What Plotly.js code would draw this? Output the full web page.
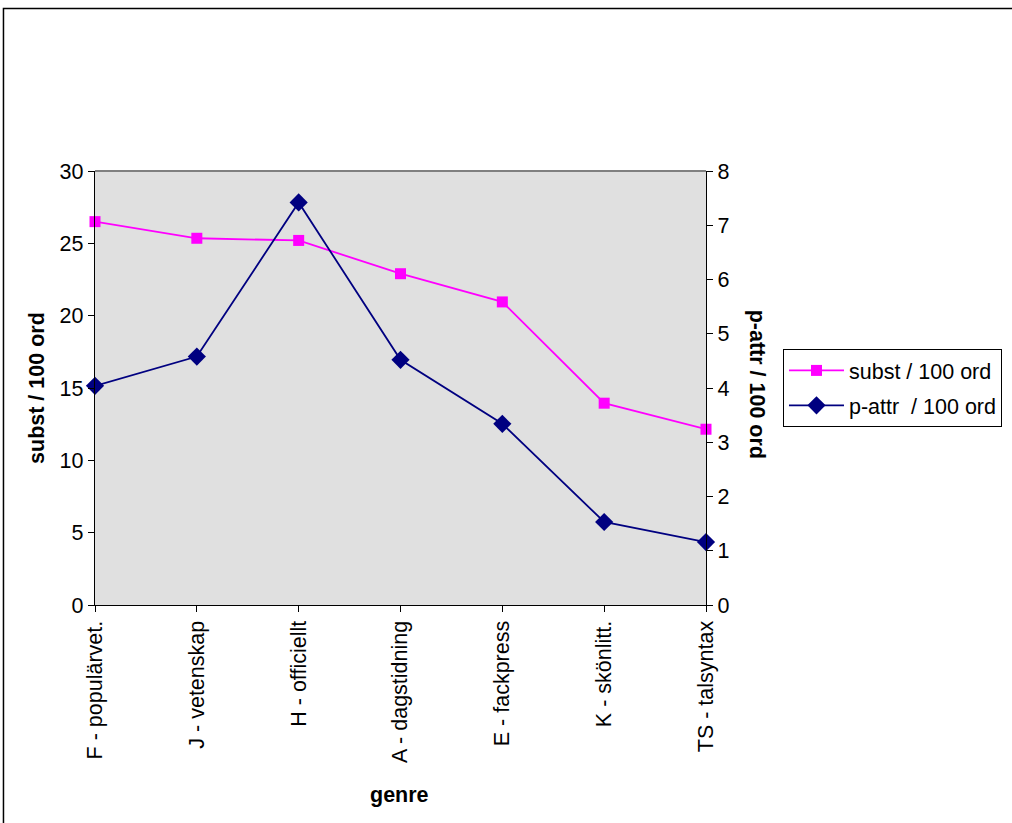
<!DOCTYPE html>
<html>
<head>
<meta charset="utf-8">
<script src="https://cdn.plot.ly/plotly-3.0.1.min.js"></script>
<style>html,body{margin:0;padding:0;background:#fff;}#chart{width:1012px;height:823px;}</style>
</head>
<body>
<div id="chart"></div>
<script>
var categories = ["F - populärvet.", "J - vetenskap", "H - officiellt", "A - dagstidning", "E - fackpress", "K - skönlitt.", "TS - talsyntax"];
var substValues = [26.5, 25.35, 25.2, 22.9, 20.95, 13.95, 12.15];
var pattrValues = [4.04, 4.58, 7.42, 4.52, 3.34, 1.53, 1.16];
var seriesNames = ["subst / 100 ord", "p-attr\u00a0\u00a0/ 100 ord"];
var leftTicks = [0, 5, 10, 15, 20, 25, 30];
var rightTicks = [0, 1, 2, 3, 4, 5, 6, 7, 8];

var FONT = "Liberation Sans, Arial, sans-serif";
var FS = 21.5;

var traces = [
  {
    x: categories, y: substValues, name: seriesNames[0], type: "scatter", mode: "lines+markers",
    xaxis: "x", yaxis: "y", legendgroup: "a", cliponaxis: false,
    line: {color: "#FF00FF", width: 1.8},
    marker: {symbol: "square", size: 11, color: "#FF00FF"}
  },
  {
    x: categories, y: pattrValues, name: seriesNames[1], type: "scatter", mode: "lines+markers",
    xaxis: "x", yaxis: "y2", legendgroup: "b", cliponaxis: false,
    line: {color: "#000080", width: 1.8},
    marker: {symbol: "diamond", size: 14, color: "#000080"}
  }
];

var tickFont = {family: FONT, size: FS, color: "#000"};

var layout = {
  width: 1012, height: 823,
  margin: {l: 95, r: 306, t: 171, b: 218, autoexpand: false},
  paper_bgcolor: "#ffffff",
  plot_bgcolor: "#E0E0E0",
  font: {family: FONT, size: FS, color: "#000"},
  showlegend: true,
  legend: {
    x: 1.126, y: 0.59, xanchor: "left", yanchor: "top",
    bordercolor: "#000", borderwidth: 1, bgcolor: "#fff",
    font: {family: FONT, size: FS, color: "#000"},
    tracegroupgap: 4, traceorder: "grouped", itemwidth: 55
  },
  xaxis: {
    type: "category", range: [0, categories.length - 1],
    tickangle: -90, tickfont: tickFont,
    showgrid: false, zeroline: false,
    showline: true, linecolor: "#000", linewidth: 1.2,
    ticks: "outside", ticklen: 6, tickcolor: "#000", tickwidth: 1,
    mirror: false, fixedrange: true
  },
  xaxis2: {
    overlaying: "x", anchor: "y", range: [0, 6], dtick: 1, tick0: 0,
    showticklabels: false, showgrid: false, zeroline: false, showline: false,
    ticks: "inside", ticklen: 6, tickcolor: "#000", tickwidth: 1
  },
  yaxis: {
    range: [0, 30], tickvals: leftTicks, tickfont: tickFont,
    showgrid: false, zeroline: false,
    showline: true, linecolor: "#000", linewidth: 1.2,
    ticks: "outside", ticklen: 6, tickcolor: "#000", tickwidth: 1
  },
  yaxis3: {
    overlaying: "y", anchor: "x", range: [0, 30], tickvals: leftTicks,
    showticklabels: false, showgrid: false, zeroline: false, showline: false,
    ticks: "inside", ticklen: 6, tickcolor: "#000", tickwidth: 1
  },
  yaxis2: {
    overlaying: "y", side: "right", anchor: "x", range: [0, 8], tickvals: rightTicks, tickfont: tickFont,
    showgrid: false, zeroline: false,
    showline: true, linecolor: "#000", linewidth: 1.2,
    ticks: "outside", ticklen: 6, tickcolor: "#000", tickwidth: 1
  },
  yaxis4: {
    overlaying: "y", side: "right", anchor: "x", range: [0, 8], tickvals: rightTicks,
    showticklabels: false, showgrid: false, zeroline: false, showline: false,
    ticks: "inside", ticklen: 6, tickcolor: "#000", tickwidth: 1
  },
  shapes: [
    {type: "line", xref: "paper", yref: "paper", x0: 0, x1: 1, y0: 1, y1: 1, line: {color: "#808080", width: 2}},
    {type: "rect", xref: "paper", yref: "paper", x0: -0.1498, x1: 1.52, y0: 1.3744, y1: -0.52, line: {color: "#000", width: 1.5}, fillcolor: "rgba(0,0,0,0)", layer: "below"}
  ],
  annotations: [
    {text: "<b>subst / 100 ord</b>", xref: "paper", yref: "paper", x: -0.095, y: 0.5, textangle: -90, showarrow: false, font: {family: FONT, size: FS, color: "#000"}, xanchor: "center", yanchor: "middle"},
    {text: "<b>p-attr / 100 ord</b>", xref: "paper", yref: "paper", x: 1.0835, y: 0.51, textangle: 90, showarrow: false, font: {family: FONT, size: FS, color: "#000"}, xanchor: "center", yanchor: "middle"},
    {text: "<b>genre</b>", xref: "paper", yref: "paper", x: 0.499, y: -0.438, showarrow: false, font: {family: FONT, size: FS, color: "#000"}, xanchor: "center", yanchor: "middle"}
  ]
};

Plotly.newPlot("chart", traces, layout, {displayModeBar: false, staticPlot: true});
</script>
</body>
</html>
